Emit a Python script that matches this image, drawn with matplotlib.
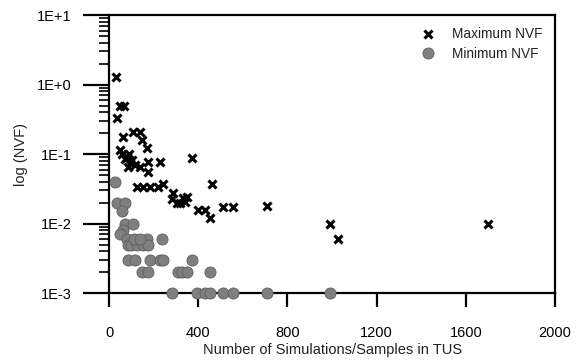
import numpy as np
import matplotlib.pyplot as plt
from matplotlib.ticker import LogLocator, NullFormatter, FixedLocator

plt.rcParams['font.family'] = ['Liberation Sans', 'DejaVu Sans']

# maximum NVF (x markers)
max_n = [31, 50, 68, 36, 63, 108, 139, 148, 170, 49, 81, 103, 85, 139, 175, 175,
         229, 372, 58, 72, 94, 90, 117,
         126, 152, 184, 220, 242, 287, 283, 305, 318, 332, 341, 350, 462,
         399, 430, 453, 511, 556, 708, 991, 1027, 1700]
max_nvf = [1.28, 0.49, 0.49, 0.33, 0.176, 0.207, 0.207, 0.158, 0.122, 0.114, 0.091, 0.082,
           0.065, 0.065, 0.077, 0.055, 0.077, 0.088, 0.10, 0.085, 0.074, 0.10, 0.069,
           0.0335, 0.0335, 0.0335, 0.0335, 0.037, 0.028, 0.023, 0.020, 0.0197, 0.0233,
           0.0204, 0.024, 0.037, 0.0156, 0.0156, 0.012, 0.0173, 0.0173, 0.018,
           0.0098, 0.006, 0.0098]

# minimum NVF (grey circles)
min_n = [27, 36, 72, 58, 72, 108, 63, 49, 81, 85, 100, 126, 170, 152, 175, 238,
         110, 140,
         85, 117, 184, 229, 242, 372,
         148, 175, 309, 327, 350, 453,
         283, 395, 430, 453, 511, 556, 708, 991]
min_nvf = [0.04, 0.02, 0.02, 0.015, 0.01, 0.01, 0.008, 0.007, 0.006, 0.005, 0.005, 0.005,
           0.006, 0.005, 0.005, 0.006,
           0.006, 0.006,
           0.003, 0.003, 0.003, 0.003, 0.003, 0.003,
           0.002, 0.002, 0.002, 0.002, 0.002, 0.002,
           0.001, 0.001, 0.001, 0.001, 0.001, 0.001, 0.001, 0.001]

xticks = [0, 400, 800, 1200, 1600, 2000]
yticks = [1e-3, 1e-2, 1e-1, 1e0, 1e1]
ylabels = ['1E-3', '1E-2', '1E-1', '1E+0', '1E+1']

fig = plt.figure(figsize=(5.77, 3.61), dpi=100)
ax = fig.add_axes([0.189, 0.188, 0.773, 0.770])

ax.plot(max_n, max_nvf, linestyle='none', marker='x', color='black',
        markersize=6, markeredgewidth=2.2, label='Maximum NVF', zorder=4)
ax.plot(min_n, min_nvf, linestyle='none', marker='o', color='#7f7f7f',
        markeredgecolor='#606060', markeredgewidth=0.6, markersize=8,
        label='Minimum NVF', clip_on=False, zorder=5)

ax.set_yscale('log')
ax.set_xlim(0, 2000)
ax.set_ylim(1e-3, 1e1)
ax.xaxis.set_major_locator(FixedLocator(xticks))
ax.set_yticks(yticks)
ax.set_yticklabels(ylabels)
ax.yaxis.set_minor_locator(LogLocator(base=10, subs=np.arange(2, 10)))
ax.yaxis.set_minor_formatter(NullFormatter())

for s in ax.spines.values():
    s.set_linewidth(1.6)
ax.tick_params(axis='y', which='major', direction='out', length=19, width=1.6,
               pad=8, labelsize=10.5, colors='black')
ax.tick_params(axis='y', which='minor', direction='out', length=7, width=1.2)
ax.tick_params(axis='x', which='major', direction='out', length=10, width=1.6,
               pad=14, labelsize=10.5)
ax.tick_params(axis='x', which='minor', bottom=False)

ax.set_xlabel('Number of Simulations/Samples in TUS', fontsize=10.5, color='#222222', labelpad=2)
ax.set_ylabel('log (NVF)', fontsize=10.5, color='#222222', labelpad=6)

leg = ax.legend(loc='upper right', frameon=False, fontsize=9.8, handletextpad=0.8,
                borderaxespad=0.5, labelspacing=0.4)
for t in leg.get_texts():
    t.set_color('#222222')

fig.savefig('out.png', dpi=100)
